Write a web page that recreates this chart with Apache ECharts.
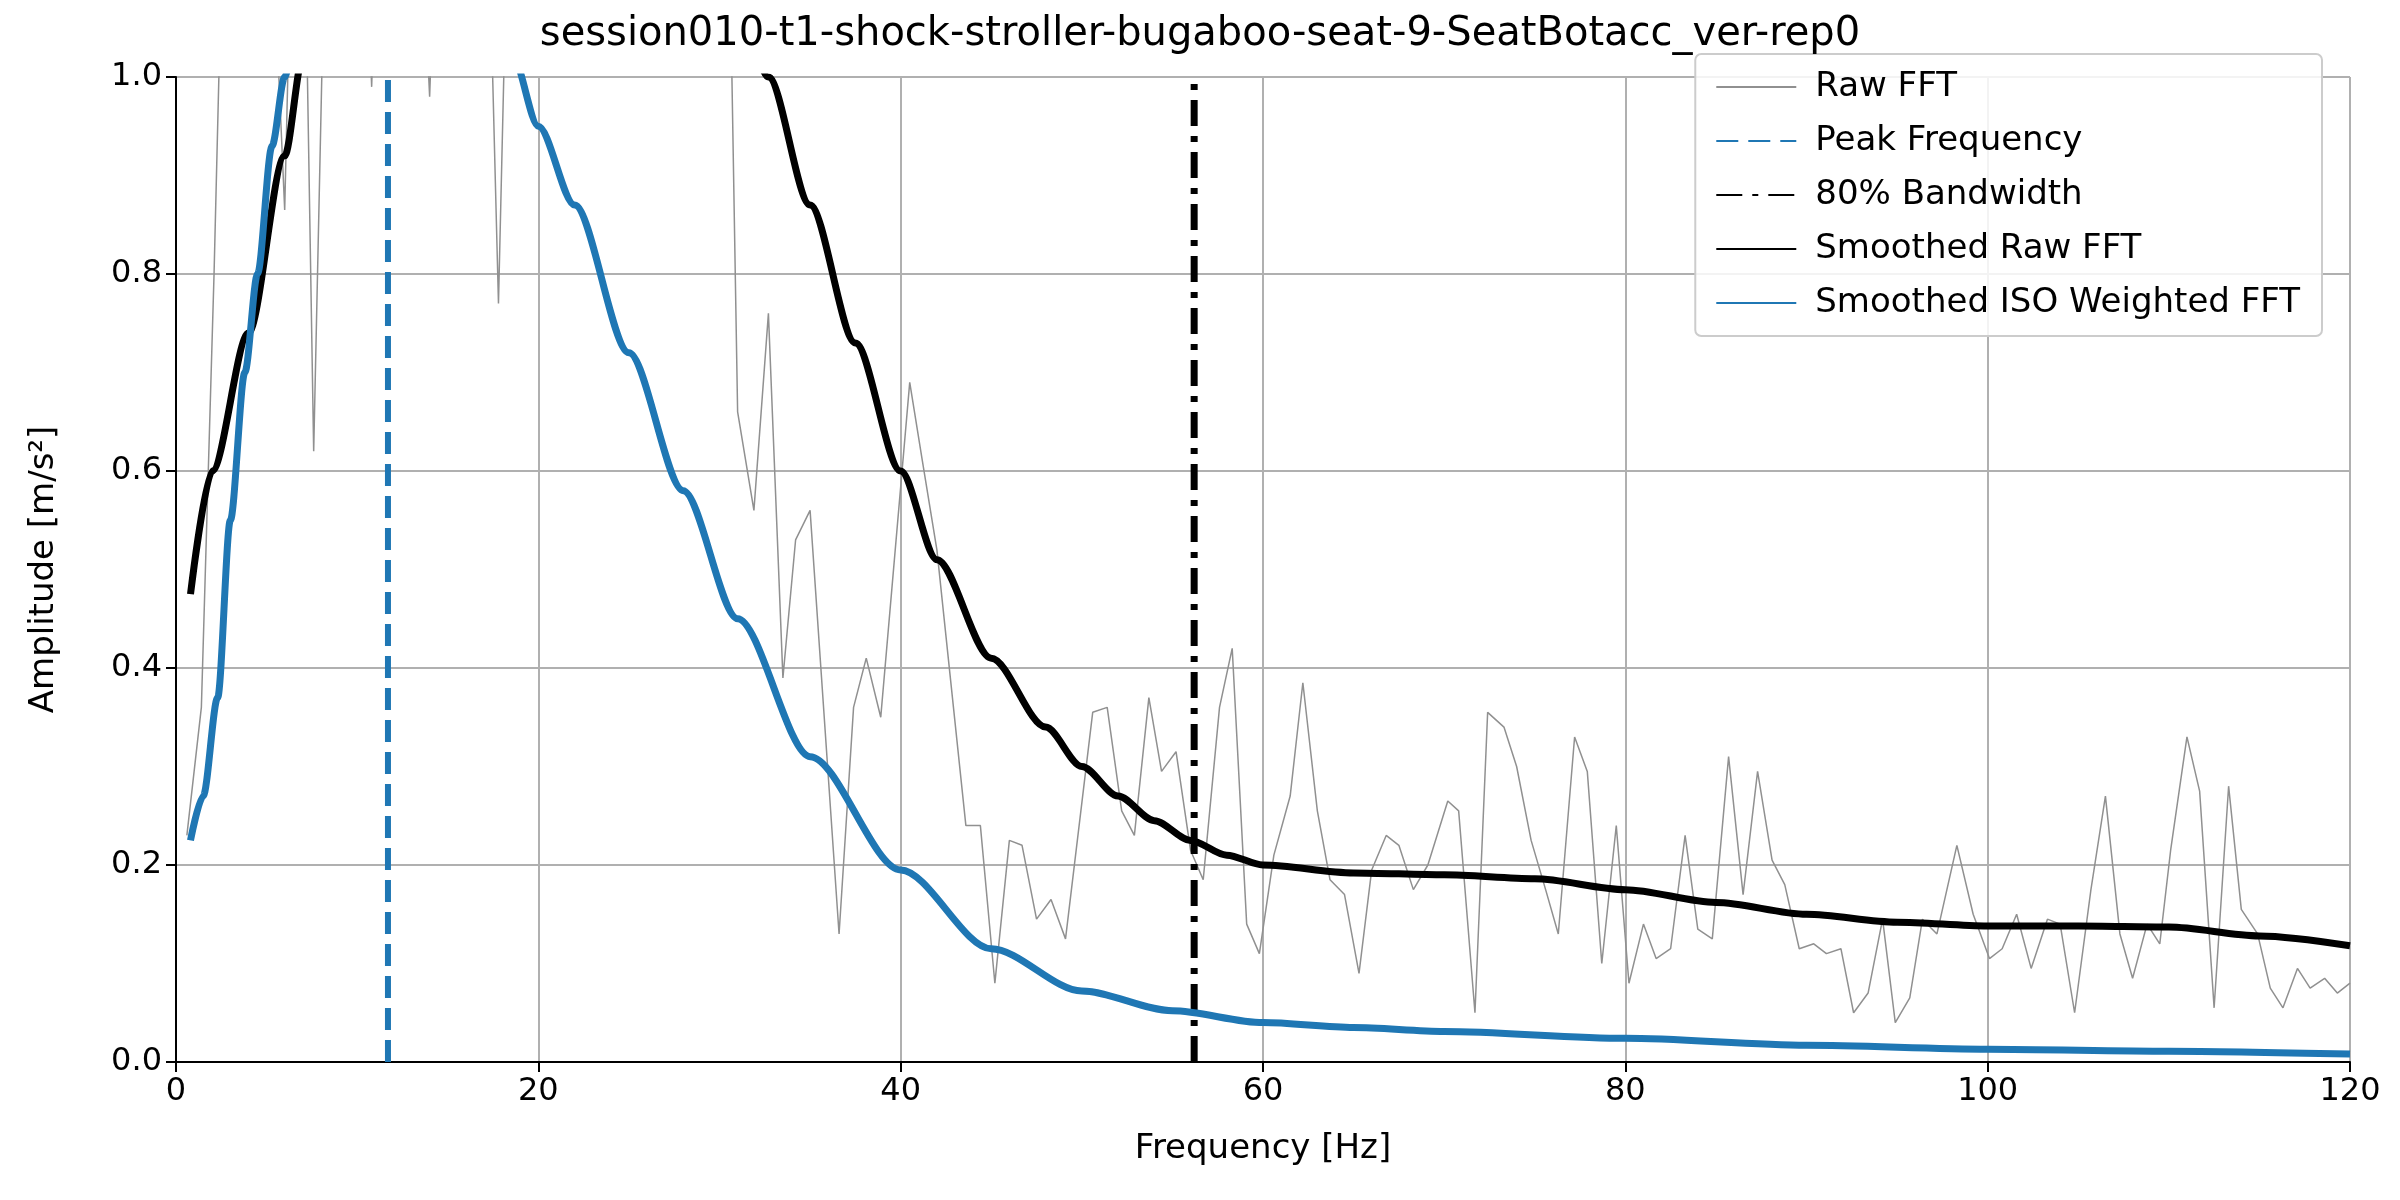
<!DOCTYPE html>
<html><head><meta charset="utf-8">
<script src="https://cdn.jsdelivr.net/npm/echarts@6/dist/echarts.min.js"></script>
<style>html,body{margin:0;padding:0;background:#fff}#c{width:2400px;height:1200px}</style>
</head><body><div id="c"></div>
<script>
// raw FFT (Hz, amplitude); values above 1 are clipped by the axis
const rawFft = [
  [0.6,0.23],[1.4,0.36],[2.1,0.8],[2.9,1.4],[3.7,1.6],[4.5,1.8],[5.2,1.2],[6.0,0.865],[6.8,1.5],[7.6,0.62],
  [8.4,1.3],[9.2,1.6],[10.0,1.4],[10.8,0.99],[11.6,1.5],[12.4,1.7],[13.2,1.3],[14.0,0.98],[14.8,1.4],[15.6,1.9],
  [16.4,1.5],[17.2,1.2],[17.8,0.77],[18.6,1.4],[19.4,1.8],[20.2,1.5],[21.0,1.6],[21.8,1.9],[22.6,1.4],[23.4,1.7],
  [24.2,1.5],[25.0,1.8],[25.8,1.3],[26.6,1.6],[27.4,1.4],[28.2,1.7],[29.0,1.5],[29.8,1.3],[30.5,1.2],[31.0,0.66],
  [31.9,0.56],[32.7,0.76],[33.5,0.39],[34.2,0.53],[35.0,0.56],[36.6,0.13],[37.4,0.36],[38.1,0.41],[38.9,0.35],[40.5,0.69],
  [41.2,0.61],[42.0,0.52],[43.6,0.24],[44.4,0.24],[45.2,0.08],[46.0,0.225],[46.7,0.22],[47.5,0.145],[48.3,0.165],[49.1,0.125],
  [50.6,0.355],[51.4,0.36],[52.2,0.255],[52.9,0.23],[53.7,0.37],[54.4,0.295],[55.2,0.315],[56.0,0.215],[56.7,0.185],[57.6,0.36],
  [58.3,0.42],[59.1,0.14],[59.8,0.11],[60.6,0.21],[61.5,0.27],[62.2,0.385],[63.0,0.255],[63.7,0.185],[64.5,0.17],[65.3,0.09],
  [66.0,0.195],[66.8,0.23],[67.5,0.22],[68.3,0.175],[69.1,0.2],[70.2,0.265],[70.8,0.255],[71.7,0.05],[72.4,0.355],[73.3,0.34],
  [74.0,0.3],[74.8,0.225],[75.6,0.175],[76.3,0.13],[77.2,0.33],[77.9,0.295],[78.7,0.1],[79.5,0.24],[80.2,0.08],[81.0,0.14],
  [81.7,0.105],[82.5,0.115],[83.3,0.23],[84.0,0.135],[84.8,0.125],[85.7,0.31],[86.5,0.17],[87.3,0.295],[88.1,0.205],[88.8,0.18],
  [89.6,0.115],[90.4,0.12],[91.1,0.11],[91.9,0.115],[92.6,0.05],[93.4,0.07],[94.2,0.145],[94.9,0.04],[95.7,0.065],[96.4,0.145],
  [97.2,0.13],[98.3,0.22],[99.2,0.15],[100.1,0.105],[100.8,0.115],[101.6,0.15],[102.4,0.095],[103.3,0.145],[104.0,0.14],[104.8,0.05],
  [105.7,0.175],[106.5,0.27],[107.3,0.13],[108.0,0.085],[108.8,0.14],[109.5,0.12],[110.1,0.215],[111.0,0.33],[111.7,0.275],[112.5,0.055],
  [113.3,0.28],[114.0,0.155],[114.9,0.13],[115.6,0.075],[116.3,0.055],[117.1,0.095],[117.8,0.075],[118.6,0.085],[119.3,0.07],[120.0,0.08]
];
const smoothRaw = [
  [0.8,0.475],[2,0.6],[4,0.74],[6,0.92],[7,1.02],[10,1.4],[15,1.8],[20,1.8],[25,1.6],[30,1.2],[32.7,1.0],
  [35,0.87],[37.5,0.73],[40,0.6],[42,0.51],[45,0.41],[48,0.34],[50,0.3],[52,0.27],[54,0.245],[56,0.225],
  [58,0.21],[60,0.2],[65,0.192],[70,0.19],[75,0.186],[80,0.175],[85,0.162],[90,0.15],[95,0.142],[100,0.138],
  [105,0.138],[110,0.137],[115,0.128],[120,0.118]
];
const smoothIso = [
  [0.8,0.225],[1.5,0.27],[2.3,0.37],[3,0.55],[3.8,0.7],[4.5,0.8],[5.3,0.93],[6,1.0],[7,1.12],[10,1.5],[14,1.5],
  [17,1.15],[18.6,1.02],[20,0.95],[22,0.87],[25,0.72],[28,0.58],[31,0.45],[35,0.31],[40,0.195],[45,0.115],
  [50,0.072],[55,0.052],[60,0.04],[65,0.035],[70,0.031],[80,0.024],[90,0.017],[100,0.013],[110,0.011],[120,0.008]
];
const peakFreq = 11.7;
const bandwidthFreq = 56.2;

const chart = echarts.init(document.getElementById('c'));
const F = 'DejaVu Sans';
chart.setOption({
  animation: false,
  title: { text: 'session010-t1-shock-stroller-bugaboo-seat-9-SeatBotacc_ver-rep0', left: 'center', top: 10,
    textStyle: { fontFamily: F, fontSize: 40, fontWeight: 'normal', color: '#000' } },
  grid: { left: 176, right: 50, top: 77, bottom: 138 },
  legend: {
    right: 78, top: 54, orient: 'vertical', itemGap: 20, itemWidth: 80, itemHeight: 27,
    padding: [16, 22, 16, 20], borderColor: '#ccc', borderWidth: 2, borderRadius: 6, backgroundColor: 'rgba(255,255,255,0.85)',
    itemStyle: { opacity: 0 },
    textStyle: { fontFamily: F, fontSize: 34, color: '#000', padding: [0, 0, 0, 14] },
    data: ['Raw FFT', 'Peak Frequency', '80% Bandwidth', 'Smoothed Raw FFT', 'Smoothed ISO Weighted FFT']
  },
  xAxis: { type: 'value', min: 0, max: 120, interval: 20, name: 'Frequency [Hz]', nameLocation: 'middle', nameGap: 70,
    nameTextStyle: { fontFamily: F, fontSize: 34, color: '#000' },
    axisLine: { lineStyle: { color: '#000', width: 2 } }, axisTick: { length: 10, lineStyle: { width: 2, color: '#000' } },
    axisLabel: { fontFamily: F, fontSize: 32, color: '#000', margin: 14 },
    splitLine: { lineStyle: { color: '#b0b0b0', width: 2 } } },
  yAxis: { type: 'value', min: 0, max: 1, interval: 0.2, name: 'Amplitude [m/s²]', nameLocation: 'middle', nameGap: 115,
    nameTextStyle: { fontFamily: F, fontSize: 34, color: '#000' },
    axisLine: { show: true, lineStyle: { color: '#000', width: 2 } }, axisTick: { show: true, length: 10, lineStyle: { width: 2, color: '#000' } },
    axisLabel: { fontFamily: F, fontSize: 32, color: '#000', margin: 14, formatter: v => v.toFixed(1) },
    splitLine: { lineStyle: { color: '#b0b0b0', width: 2 } } },
  series: [
    { name: 'Raw FFT', type: 'line', data: rawFft, symbol: 'none', clip: true, color: '#909090',
      lineStyle: { color: '#909090', width: 1.5 } },
    { name: 'Peak Frequency', type: 'line', data: [[peakFreq, 0], [peakFreq, 1]], symbol: 'none', color: '#1f77b4',
      lineStyle: { color: '#1f77b4', width: 6, type: [22, 10] } },
    { name: '80% Bandwidth', type: 'line', data: [[bandwidthFreq, 0], [bandwidthFreq, 1]], symbol: 'none', color: '#000',
      lineStyle: { color: '#000', width: 7, type: [26, 10, 6, 10] } },
    { name: 'Smoothed Raw FFT', type: 'line', data: smoothRaw, symbol: 'none', smooth: 0.3, smoothMonotone: 'x', clip: true, color: '#000',
      lineStyle: { color: '#000', width: 7 } },
    { name: 'Smoothed ISO Weighted FFT', type: 'line', data: smoothIso, symbol: 'none', smooth: 0.3, smoothMonotone: 'x', clip: true, color: '#1f77b4',
      lineStyle: { color: '#1f77b4', width: 7 } }
  ]
});
</script></body></html>
